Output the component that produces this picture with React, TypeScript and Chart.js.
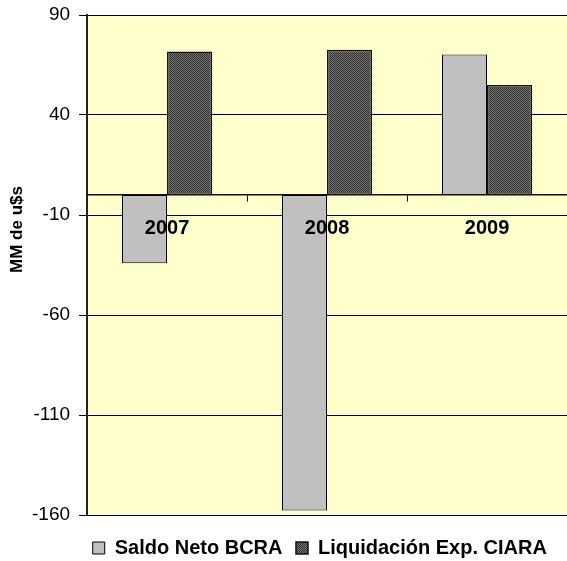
import React, { useEffect, useRef } from "react";
import { Chart, registerables } from "chart.js";

Chart.register(...registerables);

const categories = ["2007", "2008", "2009"];
const saldoNetoBCRA = [-34.1, -157.8, 70.3];
const liquidacionCIARA = [71.7, 72.6, 55];
const yTicks = [-160, -110, -60, -10, 40, 90];
const seriesNames = ["Saldo Neto BCRA", "Liquidación Exp. CIARA"];
const yTitle = "MM de u$s";

const FONT = "'Liberation Sans', Arial, sans-serif";

function makePattern(): CanvasPattern | string {
  const c = document.createElement("canvas");
  c.width = 2;
  c.height = 2;
  const g = c.getContext("2d");
  if (!g) return "#555555";
  g.fillStyle = "#757575";
  g.fillRect(0, 0, 2, 2);
  g.fillStyle = "#303030";
  g.fillRect(0, 0, 1, 1);
  g.fillRect(1, 1, 1, 1);
  const p = g.createPattern(c, "repeat");
  return p || "#555555";
}

const plotBg = {
  id: "plotBg",
  beforeDraw(chart: any) {
    const { ctx, chartArea } = chart;
    ctx.save();
    ctx.fillStyle = "#FFFFCC";
    ctx.fillRect(chartArea.left, chartArea.top, chartArea.right - chartArea.left, chartArea.bottom - chartArea.top);
    ctx.restore();
  },
};

const legendShift = {
  id: "legendShift",
  afterLayout(chart: any) {
    const lg = chart.legend;
    if (lg) {
      lg.left = 79.2;
      lg.right = 567;
    }
  },
};

const yTitlePlugin = {
  id: "yTitlePlugin",
  afterDraw(chart: any) {
    const { ctx } = chart;
    ctx.save();
    ctx.translate(17.5, 229.5);
    ctx.rotate(-Math.PI / 2);
    ctx.font = `bold 17px ${FONT}`;
    ctx.fillStyle = "#000";
    ctx.textAlign = "center";
    ctx.textBaseline = "middle";
    ctx.fillText(yTitle, 0, 0);
    ctx.restore();
  },
};

export default function App() {
  const ref = useRef<HTMLCanvasElement>(null);

  useEffect(() => {
    if (!ref.current) return;
    const pattern = makePattern();
    const chart = new Chart(ref.current, {
      type: "bar",
      data: {
        labels: categories,
        datasets: [
          {
            label: seriesNames[0],
            data: saldoNetoBCRA,
            backgroundColor: "#C0C0C0",
            borderColor: "#000000",
            borderWidth: 1,
            borderSkipped: false,
            categoryPercentage: 0.5625,
            barPercentage: 1,
          },
          {
            label: seriesNames[1],
            data: liquidacionCIARA,
            backgroundColor: pattern as any,
            borderColor: "#111111",
            borderWidth: 1.5,
            borderSkipped: false,
            categoryPercentage: 0.5625,
            barPercentage: 1,
          },
        ],
      },
      options: {
        responsive: false,
        animation: false,
        layout: { padding: { left: 23, top: 15, right: 0, bottom: -7 } },
        plugins: {
          tooltip: { enabled: false },
          legend: {
            position: "bottom",
            fullSize: true,
            align: "start",
            title: { display: true, text: " ", font: { size: 1 }, padding: { top: 8.3, bottom: 0 } },
            labels: {
              boxWidth: 12,
              boxHeight: 12,
              padding: 13.5,
              color: "#000",
              font: { family: FONT, size: 20, weight: "bold" },
            },
          },
        },
        scales: {
          x: {
            position: { y: 0 } as any,
            grid: { display: true, drawOnChartArea: false, drawTicks: true, tickLength: 6, color: "#000", offset: true },
            border: { display: true, color: "#111", width: 1.5, z: 1 },
            ticks: { z: 2, color: "#000", padding: 15.3, font: { family: FONT, size: 20, weight: "bold" } },
          },
          y: {
            min: -160,
            max: 90,
            afterBuildTicks: (scale: any) => {
              scale.ticks = yTicks.map((v) => ({ value: v }));
            },
            afterFit: (scale: any) => {
              scale.paddingTop = 0;
              scale.paddingBottom = 0;
            },
            grid: { color: "#000", lineWidth: 1, tickLength: 8 },
            border: { display: true, color: "#222", width: 2 },
            ticks: { color: "#000", padding: 9, font: { family: FONT, size: 19 } },
          },
        },
      },
      plugins: [plotBg, legendShift, yTitlePlugin],
    });
    return () => chart.destroy();
  }, []);

  return (
    <div style={{ position: "absolute", left: 0, top: 0, width: 567, height: 561, background: "#fff" }}>
      <canvas ref={ref} width={567} height={561} style={{ display: "block" }} />
    </div>
  );
}
